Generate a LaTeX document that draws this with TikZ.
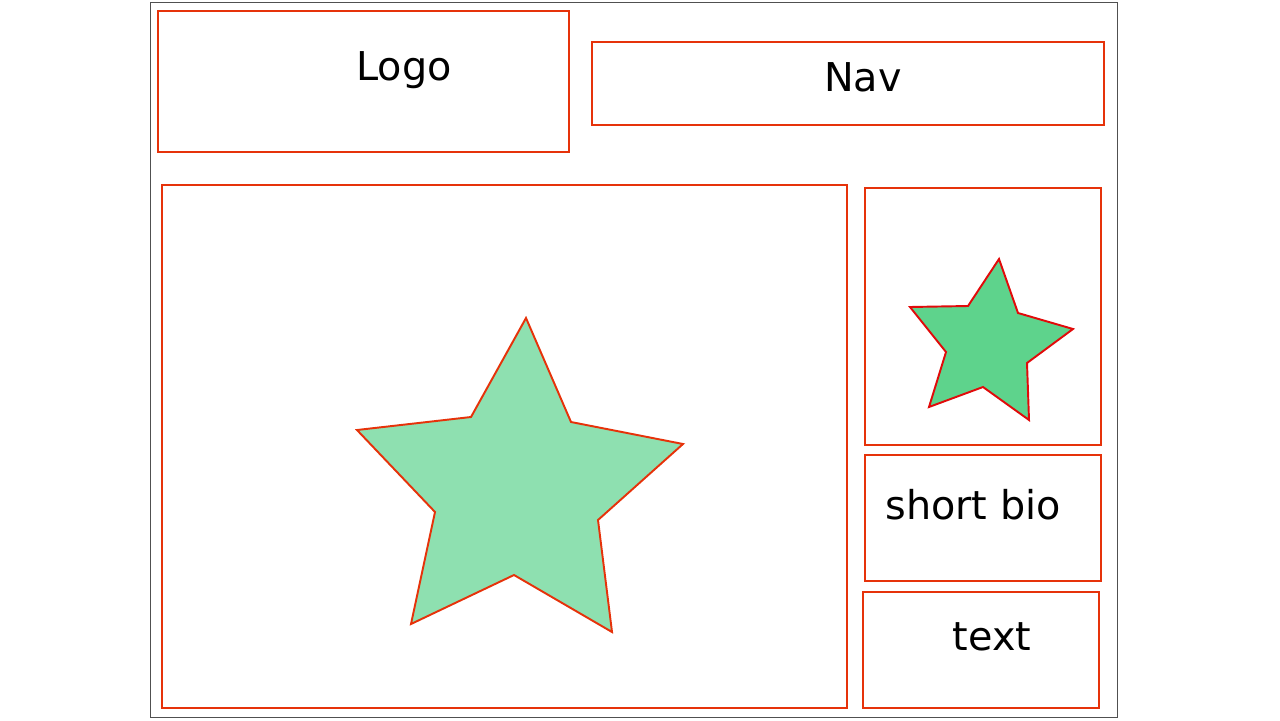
\documentclass[tikz,border=0pt]{standalone}
\usepackage{fontspec}
\setmainfont{DejaVu Sans}
\usetikzlibrary{positioning}
\definecolor{WireRed}{RGB}{230,50,10}
\definecolor{StarRed}{RGB}{225,10,10}
\definecolor{PaleGreen}{RGB}{142,224,176}
\definecolor{LeafGreen}{RGB}{94,211,140}
\definecolor{FrameGray}{RGB}{80,80,80}

\begin{document}
\begin{tikzpicture}[
	x=0.02cm,
	y=-0.02cm,
	block/.style={
		draw=WireRed,
		line width=1pt,
		inner sep=0pt,
		outer sep=0pt
	},
	caption/.style={
		anchor=base,
		inner sep=0pt,
		font=\fontsize{22.6}{27}\selectfont
	}
	]
	
	\useasboundingbox (0,0) rectangle (1280,720);
	
	% page frame
	\node[
	draw=FrameGray,
	line width=0.6pt,
	minimum width=19.36cm,
	minimum height=14.32cm
	]
	(page) at (634,360) {};
	
	% header
	\node[
	block,
	minimum width=8.22cm,
	minimum height=2.82cm
	]
	(logo) at (363.5,81.5) {};
	
	\node[
	block,
	minimum width=10.24cm,
	minimum height=1.66cm
	]
	(nav) at (848,83.5) {};
	
	% content
	\node[
	block,
	minimum width=13.7cm,
	minimum height=10.46cm
	]
	(main) at (504.5,446.5) {};
	
	\node[
	block,
	minimum width=4.72cm,
	minimum height=5.14cm
	]
	(photo) at (983,316.5) {};
	
	\node[
	block,
	minimum width=4.72cm,
	minimum height=2.52cm
	]
	(bio) at (983,518) {};
	
	\node[
	block,
	minimum width=4.72cm,
	minimum height=2.32cm
	]
	(txt) at (981,650) {};
	
	% labels
	\node[caption] (logolbl) at (404,80) {Logo};
	\node[caption] (navlbl) at (863,91) {Nav};
	\node[caption] (biolbl) at (973,519) {short bio};
	\node[caption] (txtlbl) at (992,650) {text};
	
	% stars
	\draw[
	WireRed,
	fill=PaleGreen,
	line width=1.1pt
	]
	(526,318) -- (571,422) -- (683,444) -- (598,520) -- (612,632)
	-- (514,575) -- (411,624) -- (435,512) -- (357,430) -- (471,417) -- cycle;
	
	\draw[
	StarRed,
	fill=LeafGreen,
	line width=1.1pt
	]
	(999,259) -- (1018,313) -- (1073,329) -- (1027,363) -- (1029,420)
	-- (983,387) -- (929,407) -- (946,352) -- (910,307) -- (968,306) -- cycle;
	
\end{tikzpicture}
\end{document}
